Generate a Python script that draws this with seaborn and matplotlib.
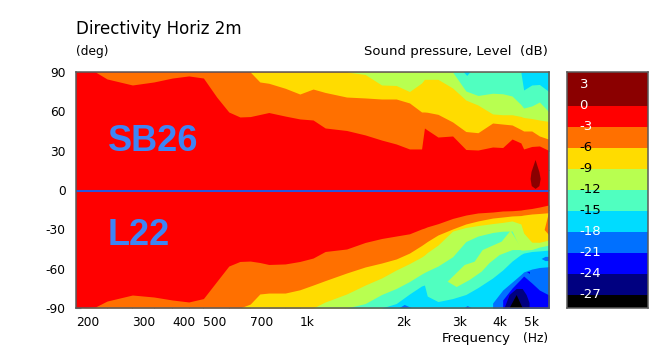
import seaborn as sns
import matplotlib.pyplot as plt

# Frequencies (Hz) shared by the contours, a contour may start later and then uses the tail of this list
freq_hz = [200, 230, 250, 300, 350, 400, 450, 500, 550, 600, 650, 700, 750, 800, 900, 1000, 1100, 1200, 1400,
           1600, 1800, 2000, 2200, 2400, 2450, 2500, 2700, 3000, 3300, 3600, 4000, 4300, 4600, 4900, 5000,
           5300, 5600, 6000]

# Angle (deg) where the level falls below each value, upper side (SB26)
up_3 = [90, 90, 84.7, 80.1, 82.4, 85.4, 87, 85.4, 70.9, 59.5, 55.7, 56, 57.6, 59.1, 56.4, 54.2, 53.4, 47.3, 45.4,
        42, 38.1, 35.1, 31.3, 31.3, 47.3, 45.8, 40.4, 41.2, 30.9, 30.5, 32.8, 32.4, 38.9, 35.9, 31.3, 33.2, 33.6, 30.1]
up_6 = [90, 82.4, 81.4, 77.6, 73.2, 77, 74.4, 70.9, 70.2, 69.4, 69.4, 66.4, 59.5, 59.5, 59.3, 57.7, 51.9, 44.6,
        43.7, 51.1, 50.3, 49.6, 46.2, 45, 45, 41.2, 38.7]
up_9 = [90, 88.1, 80.1, 79.7, 75.1, 81.6, 84.4, 84.4, 84.4, 77.8, 68.6, 64.8, 58, 57.4, 57.4, 56.1, 55.3, 54.5, 53.4, 52.3]
up_12 = [90, 75.5, 72.1, 73.8, 73.4, 71.7, 65.2, 62.5, 64.1, 67.1, 59.5]
up_15 = [90, 76.3, 80.1, 80.5, 75]

# Same for the lower side (L22)
low_3 = [-90, -89.2, -84.7, -80.1, -81.6, -83.9, -85.4, -82.8, -69.8, -58, -54.5, -54.2, -55.3, -56.8, -56.4, -54.5,
         -51.9, -46.9, -45, -40, -37, -35.1, -33.4, -29.7, -29, -28.1, -25.7, -21.7, -19.1, -17.5, -16.8, -16, -15.8,
         -15.3, -14.9, -14.1, -13, -11.4]
low_6 = [-90, -87, -79.3, -78.6, -78.6, -76.1, -72.5, -69.1, -63.3, -58.7, -55.7, -52.6, -48.1, -42.3, -40.8, -39.3,
         -34.3, -29.7, -25.9, -23.6, -21.4, -20.6, -19.8, -19.5, -19.1, -18.3, -17.9, -17.3]
low_9 = [-90, -85.4, -79.3, -72.5, -67.1, -61, -56.1, -51.1, -49.6, -47.7, -42, -31.3, -28.6, -27.1, -25.6, -24.7,
         -23.6, -25.9, -32.8, -39.8, -39.9, -38.1]
low_12 = [-90, -86.6, -79.7, -75.1, -69.8, -64.1, -62.9, -61.8, -58, -50.9, -39.3, -35.1, -32.4, -31.4, -31.3, -45.8,
          -45.8, -45.4, -43.5, -42]
low_15 = [-90, -86.6, -79.3, -73.2, -72.5, -80.9, -85.1, -82.8, -79.7, -74.4, -67.1, -61, -54.2, -49.2, -48.1, -46.9,
          -46.5, -45.8]
low_18 = [-86.2, -76.3, -70.2, -64.5, -62.5, -60.3, -59.1, -58.5]
low_21 = [-83.9, -74.8, -67.9, -65.6, -70.9, -76.3, -80.1]

# Closed regions that do not fit a single contour (freq, angle)
peak_f = [5448, 5510, 5600, 5650, 5600, 5448, 5300, 5256, 5290, 5380]
peak_a = [22.9, 19, 13.7, 8.4, 3, 0.8, 3, 8.4, 13.7, 19]
tongue_f = [2895, 3272, 3515, 3724, 4269, 4554, 4963, 4618, 4207, 3914, 3696, 3392, 3090]
tongue_a = [-69.9, -57.2, -54.7, -45.8, -39.4, -31, -45.8, -45.8, -49.6, -55.7, -62.3, -68.6, -74]
navy_f = [4362, 4520, 4754, 4963, 5108, 5218, 5218]
navy_a = [-90, -80.1, -75.5, -75.5, -80.1, -86.2, -90]
black_f = [4520, 4754, 4963]
black_a = [-90, -80.1, -90]
edge_f = [6000, 5814, 6000]
edge_a = [-17.3, -30.5, -34.3]
spot_f = [5690, 5854, 6000, 6000, 5854]
spot_a = [-52.6, -51, -51, -54.2, -54.2]
speck1_f = [2050, 2126, 2235]
speck1_a = [-90, -87.7, -90]
speck2_f = [3272, 3342, 3440]
speck2_a = [-90, -88.5, -90]
speck3_f = [5108, 5218, 5218]
speck3_a = [-62.5, -62.5, -64]
speck4_f = [3248, 3332, 3416]
speck4_a = [90, 87, 90]

# Colour scale, one colour per 3 dB band
band_tops = [4.8, 0, -3, -6, -9, -12, -15, -18, -21, -24, -27]
band_bottoms = [0, -3, -6, -9, -12, -15, -18, -21, -24, -27, -28.9]
band_colors = ['#8b0000', '#ff0000', '#ff7000', '#ffdc00', '#b8ff50', '#50ffc0', '#00dcff', '#0070ff', '#0000ff',
               '#000080', '#000000']
level_ticks = [3, 0, -3, -6, -9, -12, -15, -18, -21, -24, -27]
level_text_colors = ['white', 'white', 'white', 'black', 'black', 'black', 'black', 'white', 'white', 'white', 'white']

freq_major = [200, 300, 400, 500, 700, 1000, 2000, 3000, 4000, 5000]
freq_labels = ['200', '300', '400', '500', '700', '1k', '2k', '3k', '4k', '5k']
freq_minor = [250, 350, 450, 600, 800, 900, 1500, 2500, 3500, 4500]
angle_major = [90, 60, 30, 0, -30, -60, -90]
angle_labels = ['90', '60', '30', '0', '-30', '-60', '-90']
angle_minor = [75, 45, 15, -15, -45, -75]
divider_angle = -0.7

sns.set_style('white')
plt.rcParams['font.family'] = ['DejaVu Sans']
palette = sns.color_palette(band_colors)
frame = '#5a5a5a'
ticks = '#7f8a8a'

fig = plt.figure(figsize=(6.66, 3.51), dpi=100)
ax = fig.add_axes([76 / 666, 43 / 351, 473 / 666, 236 / 351])
cax = fig.add_axes([566.5 / 666, 43 / 351, 81.5 / 666, 236 / 351])


def band(curve, limit, color):
    ax.fill_between(freq_hz[-len(curve):], curve, limit, color=palette[color], linewidth=0)


# Painted from the axis outwards
ax.fill_between(freq_hz, -90, 90, color=palette[1], linewidth=0)
band(up_3, 90, 2)
band(up_6, 90, 3)
band(up_9, 90, 4)
band(up_12, 90, 5)
band(up_15, 90, 6)
ax.fill(speck4_f, speck4_a, color=palette[6], linewidth=0)

band(low_3, -90, 2)
band(low_6, -90, 3)
ax.fill(edge_f, edge_a, color=palette[2], linewidth=0)
band(low_9, -90, 4)
band(low_12, -90, 5)
ax.fill(tongue_f, tongue_a, color=palette[4], linewidth=0)
band(low_15, -90, 6)
band(low_18, -90, 7)
band(low_21, -90, 8)
ax.fill(spot_f, spot_a, color=palette[7], linewidth=0)
ax.fill(speck1_f, speck1_a, color=palette[7], linewidth=0)
ax.fill(speck2_f, speck2_a, color=palette[7], linewidth=0)
ax.fill(speck3_f, speck3_a, color=palette[8], linewidth=0)
ax.fill(navy_f, navy_a, color=palette[9], linewidth=0)
ax.fill(black_f, black_a, color=palette[10], linewidth=0)
ax.fill(peak_f, peak_a, color=palette[0], linewidth=0)

sns.lineplot(x=[200, 6000], y=[divider_angle, divider_angle], color='#2a55dd', linewidth=1.5, ax=ax)

ax.set_xscale('log')
ax.set_xlim(200, 6000)
ax.set_ylim(-90, 90)
ax.set_xticks(freq_major, freq_labels, ha='left')
ax.set_xticks(freq_minor, minor=True)
ax.set_xticklabels([], minor=True)
ax.set_yticks(angle_major, angle_labels)
ax.set_yticks(angle_minor, minor=True)
ax.tick_params(axis='both', which='both', direction='in', length=3.5, width=0.8, color=ticks,
               top=True, right=True, bottom=True, left=True, labelsize=8.8, labelcolor='black')
ax.tick_params(axis='x', which='major', pad=6)
ax.tick_params(axis='y', which='major', pad=7.5)
ax.set_xlabel('')
ax.set_ylabel('')

for s in ax.spines.values():
    s.set_color(frame)
    s.set_linewidth(1.1)
    s.set_zorder(5)

ax.text(32 / 473, 0.664, 'SB26', transform=ax.transAxes, family='Liberation Sans', weight='bold',
        fontsize=26, color='#3d85f5', ha='left', va='baseline')
ax.text(32 / 473, 0.267, 'L22', transform=ax.transAxes, family='Liberation Sans', weight='bold',
        fontsize=26, color='#3d85f5', ha='left', va='baseline')

# Colour scale drawn as stacked bars
for top, bottom, c in zip(band_tops, band_bottoms, palette):
    cax.bar(0, top - bottom, bottom=bottom, width=1, color=c, linewidth=0)
cax.set_xlim(-0.5, 0.5)
cax.set_ylim(-28.9, 4.8)
cax.set_xticks([])
cax.set_yticks(level_ticks)
cax.set_yticklabels([])
cax.tick_params(axis='y', direction='in', length=4, width=0.8, color=ticks, left=True, right=False)
for lev, tc in zip(level_ticks, level_text_colors):
    cax.text(0.16, lev, str(lev), transform=cax.get_yaxis_transform(), color=tc, fontsize=9.5, va='center', ha='left')
for s in cax.spines.values():
    s.set_color(frame)
    s.set_linewidth(1.1)

fig.text(76 / 666, 1 - 34 / 351, 'Directivity Horiz 2m', fontsize=12, color='black', ha='left', va='baseline')
fig.text(76 / 666, 1 - 55 / 351, '(deg)', fontsize=8.8, color='black', ha='left', va='baseline')
fig.text(548 / 666, 1 - 55 / 351, 'Sound pressure, Level  (dB)', fontsize=9.5, color='black', ha='right', va='baseline')
fig.text(442 / 666, 1 - 342 / 351, 'Frequency', fontsize=9.5, color='black', ha='left', va='baseline')
fig.text(548 / 666, 1 - 342 / 351, '(Hz)', fontsize=8.8, color='black', ha='right', va='baseline')

fig.savefig('out.png', dpi=100)
